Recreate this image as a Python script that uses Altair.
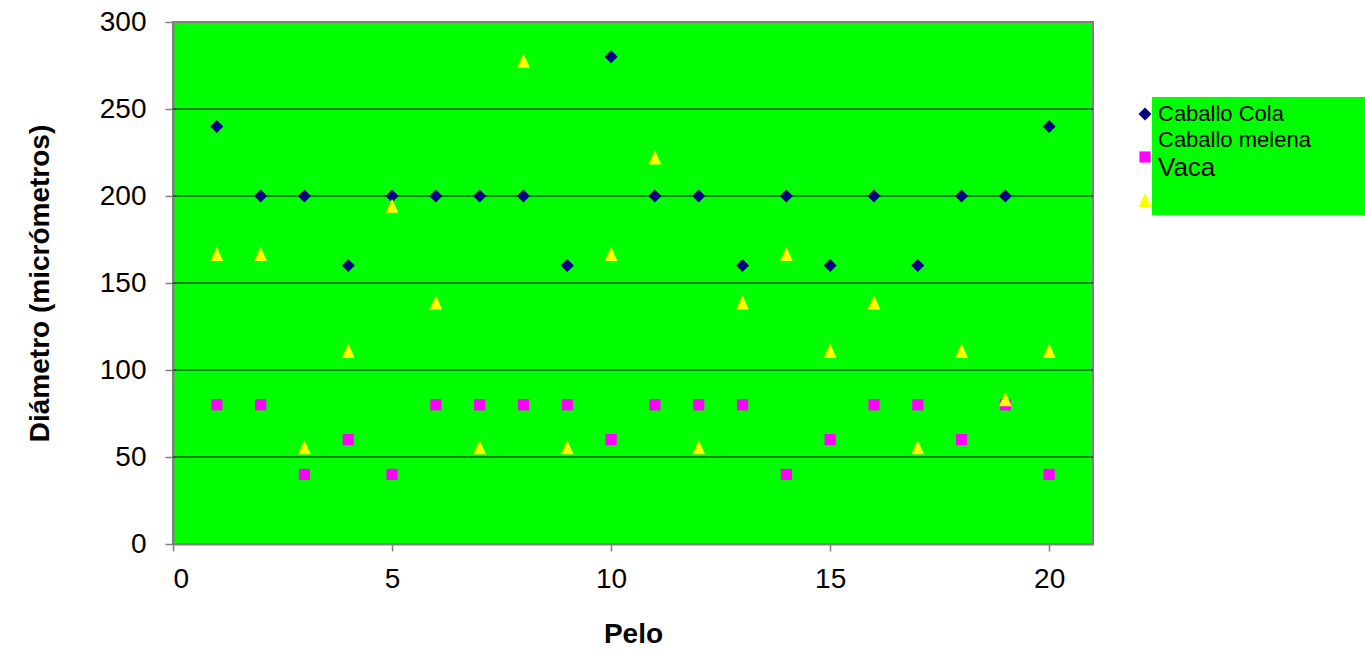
import altair as alt
import pandas as pd

# ---- data ----
pelo = list(range(1, 21))
series = ["Caballo Cola", "Caballo melena", "Vaca"]
cola = [240, 200, 200, 160, 200, 200, 200, 200, 160, 280,
        200, 200, 160, 200, 160, 200, 160, 200, 200, 240]
melena = [80, 80, 40, 60, 40, 80, 80, 80, 80, 60,
          80, 80, 80, 40, 60, 80, 80, 60, 80, 40]
vaca = [166.7, 166.7, 55.6, 111.1, 194.4, 138.9, 55.6, 277.8, 55.6, 166.7,
        222.2, 55.6, 138.9, 166.7, 111.1, 138.9, 55.6, 111.1, 83.3, 111.1]
x_ticks = [0, 5, 10, 15, 20]
y_ticks = [0, 50, 100, 150, 200, 250, 300]

colors = ["#000080", "#FF00FF", "#FFFF00"]
TRI = "M0,-1L-0.9,1L0.9,1Z"
shapes = ["diamond", "square", TRI]
sizes = [170, 125, 200]
FONT = "Liberation Sans"

rows = []
for name, vals in zip(series, [cola, melena, vaca]):
    for p, v in zip(pelo, vals):
        rows.append({"Pelo": p, "Diametro": v, "Serie": name})
df = pd.DataFrame(rows)

xscale = alt.Scale(domain=[0, 21], nice=False, zero=True)
yscale = alt.Scale(domain=[0, 300], nice=False)

x_axis = alt.Axis(values=x_ticks, title="Pelo", grid=False, tickSize=7,
                  labelPadding=14, titleY=90, titleBaseline="middle")
y_axis = alt.Axis(values=y_ticks, title="Diámetro (micrómetros)", grid=False,
                  tickSize=8, labelPadding=19, titleX=-133, titleY=261,
                  titleBaseline="middle", titleAngle=-90)

grid = alt.Chart(pd.DataFrame({"g": y_ticks[1:-1]})).mark_rule(
    color="black", strokeWidth=1
).encode(y=alt.Y("g:Q", scale=yscale, axis=y_axis, title="Diámetro (micrómetros)"))

series_layers = []
for i, name in enumerate(series):
    series_layers.append(
        alt.Chart(df).transform_filter(alt.datum.Serie == name).mark_point(
            filled=True, opacity=1, strokeWidth=0,
            shape=shapes[i], color=colors[i], size=sizes[i]
        ).encode(
            x=alt.X("Pelo:Q", scale=xscale, axis=x_axis, title="Pelo"),
            y=alt.Y("Diametro:Q", scale=yscale, axis=y_axis, title="Diámetro (micrómetros)"),
        )
    )

# ---- custom legend (box with texts, symbols just to its left) ----
legend_box = alt.Chart(pd.DataFrame({"a": [0]})).mark_rect(color="#00FF00").encode(
    x=alt.value(979), x2=alt.value(1192), y=alt.value(75), y2=alt.value(193)
)
legend_layers = [legend_box]
sym_y = [92, 135, 178]
txt_y = [92, 118, 146]
txt_size = [22, 22, 26]
for i, name in enumerate(series):
    legend_layers.append(
        alt.Chart(pd.DataFrame({"s": [name]})).mark_point(
            filled=True, opacity=1, size=sizes[i], strokeWidth=0,
            shape=shapes[i], color=colors[i]
        ).encode(x=alt.value(972), y=alt.value(sym_y[i]))
    )
    legend_layers.append(
        alt.Chart(pd.DataFrame({"s": [name]})).mark_text(
            align="left", baseline="middle", font=FONT, fontSize=txt_size[i], color="black"
        ).encode(text="s:N", x=alt.value(985), y=alt.value(txt_y[i]))
    )

chart = alt.layer(grid, *series_layers, *legend_layers).properties(
    width=920, height=522,
    autosize=alt.AutoSizeParams(type="none"),
    padding={"left": 173, "top": 22, "right": 272, "bottom": 109},
    background="white",
).configure_view(
    fill="#00FF00", stroke="#808080", strokeWidth=2
).configure_axis(
    labelFont=FONT, labelFontSize=28, labelColor="black",
    titleFont=FONT, titleFontSize=28, titleFontWeight="bold", titleColor="black",
    domainColor="#808080", domainWidth=2, tickColor="#808080", tickWidth=1.5,
)

chart.save("out.html", embed_options={"renderer": "svg", "actions": False})
